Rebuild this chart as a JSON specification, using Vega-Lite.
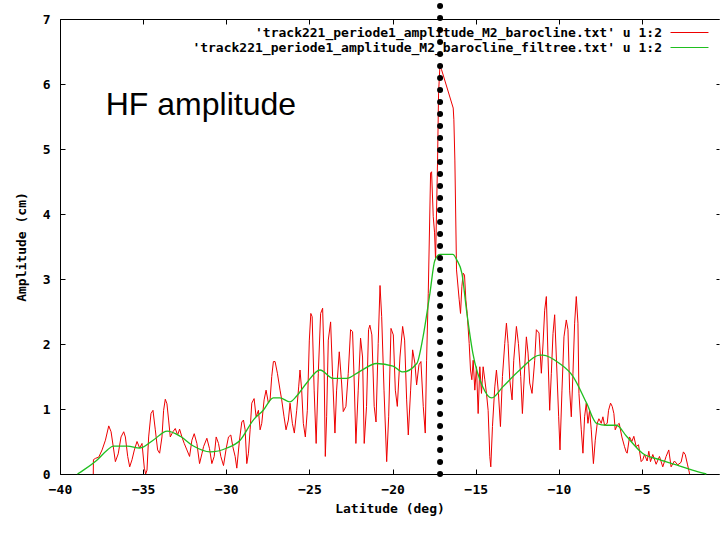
{
  "$schema": "https://vega.github.io/schema/vega-lite/v6.json",
  "width": 659,
  "height": 455,
  "autosize": {"type": "none"},
  "padding": {"left": 60, "top": 19, "right": 1, "bottom": 59},
  "background": "white",
  "config": {
    "view": {"stroke": null},
    "axis": {
      "domainColor": "black", "tickColor": "black", "labelColor": "black", "titleColor": "black",
      "labelFont": "DejaVu Sans Mono", "labelFontWeight": "bold", "labelFontSize": 13,
      "titleFont": "DejaVu Sans Mono", "titleFontWeight": "bold", "titleFontSize": 13,
      "grid": false, "labelFlush": false, "labelOverlap": false, "domainWidth": 1, "tickWidth": 1
    },
    "legend": {
      "orient": "none", "legendX": 622, "legendY": 6, "padding": 0,
      "symbolType": "M-2.71,0H2.71", "symbolSize": 196, "symbolStrokeWidth": 1,
      "labelAlign": "right", "labelOffset": -35, "labelLimit": 700,
      "labelFont": "DejaVu Sans Mono", "labelFontWeight": "bold", "labelFontSize": 13, "labelColor": "black",
      "rowPadding": 0, "title": null
    }
  },
  "datasets": {
    "raw": [
      {"lat": -38.0, "amp": 0, "s": "raw"},
      {"lat": -37.99, "amp": 0.22, "s": "raw"},
      {"lat": -37.87, "amp": 0.24, "s": "raw"},
      {"lat": -37.67, "amp": 0.26, "s": "raw"},
      {"lat": -37.47, "amp": 0.37, "s": "raw"},
      {"lat": -37.27, "amp": 0.52, "s": "raw"},
      {"lat": -37.07, "amp": 0.74, "s": "raw"},
      {"lat": -36.93, "amp": 0.65, "s": "raw"},
      {"lat": -36.77, "amp": 0.37, "s": "raw"},
      {"lat": -36.67, "amp": 0.19, "s": "raw"},
      {"lat": -36.5, "amp": 0.31, "s": "raw"},
      {"lat": -36.33, "amp": 0.57, "s": "raw"},
      {"lat": -36.17, "amp": 0.65, "s": "raw"},
      {"lat": -36.07, "amp": 0.57, "s": "raw"},
      {"lat": -35.93, "amp": 0.27, "s": "raw"},
      {"lat": -35.81, "amp": 0.11, "s": "raw"},
      {"lat": -35.67, "amp": 0.22, "s": "raw"},
      {"lat": -35.53, "amp": 0.37, "s": "raw"},
      {"lat": -35.37, "amp": 0.5, "s": "raw"},
      {"lat": -35.21, "amp": 0.4, "s": "raw"},
      {"lat": -35.07, "amp": 0.47, "s": "raw"},
      {"lat": -34.93, "amp": 0.09, "s": "raw"},
      {"lat": -34.85, "amp": 0.0, "s": "raw"},
      {"lat": -34.77, "amp": 0.06, "s": "raw"},
      {"lat": -34.67, "amp": 0.57, "s": "raw"},
      {"lat": -34.53, "amp": 0.93, "s": "raw"},
      {"lat": -34.41, "amp": 0.98, "s": "raw"},
      {"lat": -34.27, "amp": 0.68, "s": "raw"},
      {"lat": -34.13, "amp": 0.37, "s": "raw"},
      {"lat": -34.01, "amp": 0.32, "s": "raw"},
      {"lat": -33.87, "amp": 0.57, "s": "raw"},
      {"lat": -33.77, "amp": 0.98, "s": "raw"},
      {"lat": -33.67, "amp": 1.15, "s": "raw"},
      {"lat": -33.57, "amp": 1.08, "s": "raw"},
      {"lat": -33.47, "amp": 0.83, "s": "raw"},
      {"lat": -33.37, "amp": 0.57, "s": "raw"},
      {"lat": -33.21, "amp": 0.65, "s": "raw"},
      {"lat": -33.07, "amp": 0.7, "s": "raw"},
      {"lat": -32.93, "amp": 0.6, "s": "raw"},
      {"lat": -32.81, "amp": 0.69, "s": "raw"},
      {"lat": -32.67, "amp": 0.57, "s": "raw"},
      {"lat": -32.53, "amp": 0.47, "s": "raw"},
      {"lat": -32.37, "amp": 0.37, "s": "raw"},
      {"lat": -32.21, "amp": 0.27, "s": "raw"},
      {"lat": -32.07, "amp": 0.52, "s": "raw"},
      {"lat": -31.93, "amp": 0.62, "s": "raw"},
      {"lat": -31.77, "amp": 0.47, "s": "raw"},
      {"lat": -31.61, "amp": 0.16, "s": "raw"},
      {"lat": -31.47, "amp": 0.31, "s": "raw"},
      {"lat": -31.37, "amp": 0.42, "s": "raw"},
      {"lat": -31.17, "amp": 0.55, "s": "raw"},
      {"lat": -31.01, "amp": 0.39, "s": "raw"},
      {"lat": -30.87, "amp": 0.16, "s": "raw"},
      {"lat": -30.73, "amp": 0.27, "s": "raw"},
      {"lat": -30.61, "amp": 0.57, "s": "raw"},
      {"lat": -30.47, "amp": 0.47, "s": "raw"},
      {"lat": -30.33, "amp": 0.27, "s": "raw"},
      {"lat": -30.17, "amp": 0.13, "s": "raw"},
      {"lat": -30.01, "amp": 0.39, "s": "raw"},
      {"lat": -29.87, "amp": 0.57, "s": "raw"},
      {"lat": -29.73, "amp": 0.6, "s": "raw"},
      {"lat": -29.61, "amp": 0.42, "s": "raw"},
      {"lat": -29.47, "amp": 0.27, "s": "raw"},
      {"lat": -29.37, "amp": 0.09, "s": "raw"},
      {"lat": -29.21, "amp": 0.52, "s": "raw"},
      {"lat": -29.07, "amp": 0.8, "s": "raw"},
      {"lat": -28.97, "amp": 0.83, "s": "raw"},
      {"lat": -28.87, "amp": 0.68, "s": "raw"},
      {"lat": -28.77, "amp": 0.16, "s": "raw"},
      {"lat": -28.67, "amp": 0.32, "s": "raw"},
      {"lat": -28.57, "amp": 0.68, "s": "raw"},
      {"lat": -28.47, "amp": 1.09, "s": "raw"},
      {"lat": -28.33, "amp": 1.16, "s": "raw"},
      {"lat": -28.21, "amp": 0.88, "s": "raw"},
      {"lat": -28.07, "amp": 0.98, "s": "raw"},
      {"lat": -27.97, "amp": 0.68, "s": "raw"},
      {"lat": -27.87, "amp": 0.78, "s": "raw"},
      {"lat": -27.73, "amp": 1.14, "s": "raw"},
      {"lat": -27.61, "amp": 1.29, "s": "raw"},
      {"lat": -27.47, "amp": 1.09, "s": "raw"},
      {"lat": -27.37, "amp": 1.14, "s": "raw"},
      {"lat": -27.27, "amp": 1.5, "s": "raw"},
      {"lat": -27.17, "amp": 1.73, "s": "raw"},
      {"lat": -27.07, "amp": 1.73, "s": "raw"},
      {"lat": -26.93, "amp": 1.55, "s": "raw"},
      {"lat": -26.77, "amp": 1.29, "s": "raw"},
      {"lat": -26.67, "amp": 1.14, "s": "raw"},
      {"lat": -26.53, "amp": 0.88, "s": "raw"},
      {"lat": -26.41, "amp": 0.68, "s": "raw"},
      {"lat": -26.27, "amp": 0.83, "s": "raw"},
      {"lat": -26.17, "amp": 1.09, "s": "raw"},
      {"lat": -26.03, "amp": 0.78, "s": "raw"},
      {"lat": -25.91, "amp": 0.63, "s": "raw"},
      {"lat": -25.77, "amp": 0.98, "s": "raw"},
      {"lat": -25.65, "amp": 1.34, "s": "raw"},
      {"lat": -25.57, "amp": 1.6, "s": "raw"},
      {"lat": -25.47, "amp": 1.29, "s": "raw"},
      {"lat": -25.37, "amp": 0.78, "s": "raw"},
      {"lat": -25.25, "amp": 0.57, "s": "raw"},
      {"lat": -25.13, "amp": 0.98, "s": "raw"},
      {"lat": -25.01, "amp": 2.06, "s": "raw"},
      {"lat": -24.92, "amp": 2.47, "s": "raw"},
      {"lat": -24.84, "amp": 2.42, "s": "raw"},
      {"lat": -24.72, "amp": 1.29, "s": "raw"},
      {"lat": -24.6, "amp": 0.47, "s": "raw"},
      {"lat": -24.47, "amp": 1.55, "s": "raw"},
      {"lat": -24.33, "amp": 2.47, "s": "raw"},
      {"lat": -24.21, "amp": 2.55, "s": "raw"},
      {"lat": -24.13, "amp": 1.8, "s": "raw"},
      {"lat": -24.05, "amp": 0.27, "s": "raw"},
      {"lat": -23.97, "amp": 0.88, "s": "raw"},
      {"lat": -23.87, "amp": 2.06, "s": "raw"},
      {"lat": -23.73, "amp": 2.34, "s": "raw"},
      {"lat": -23.61, "amp": 1.5, "s": "raw"},
      {"lat": -23.47, "amp": 0.63, "s": "raw"},
      {"lat": -23.37, "amp": 1.29, "s": "raw"},
      {"lat": -23.21, "amp": 1.88, "s": "raw"},
      {"lat": -23.07, "amp": 1.4, "s": "raw"},
      {"lat": -22.97, "amp": 0.96, "s": "raw"},
      {"lat": -22.81, "amp": 1.04, "s": "raw"},
      {"lat": -22.67, "amp": 1.55, "s": "raw"},
      {"lat": -22.53, "amp": 2.22, "s": "raw"},
      {"lat": -22.41, "amp": 2.19, "s": "raw"},
      {"lat": -22.31, "amp": 1.4, "s": "raw"},
      {"lat": -22.21, "amp": 0.47, "s": "raw"},
      {"lat": -22.07, "amp": 1.29, "s": "raw"},
      {"lat": -21.93, "amp": 2.09, "s": "raw"},
      {"lat": -21.81, "amp": 1.8, "s": "raw"},
      {"lat": -21.71, "amp": 0.47, "s": "raw"},
      {"lat": -21.57, "amp": 1.04, "s": "raw"},
      {"lat": -21.45, "amp": 2.22, "s": "raw"},
      {"lat": -21.37, "amp": 2.29, "s": "raw"},
      {"lat": -21.25, "amp": 2.14, "s": "raw"},
      {"lat": -21.11, "amp": 1.04, "s": "raw"},
      {"lat": -21.0, "amp": 0.8, "s": "raw"},
      {"lat": -20.87, "amp": 2.01, "s": "raw"},
      {"lat": -20.76, "amp": 2.9, "s": "raw"},
      {"lat": -20.66, "amp": 2.42, "s": "raw"},
      {"lat": -20.52, "amp": 1.29, "s": "raw"},
      {"lat": -20.36, "amp": 0.19, "s": "raw"},
      {"lat": -20.24, "amp": 0.88, "s": "raw"},
      {"lat": -20.1, "amp": 2.24, "s": "raw"},
      {"lat": -19.96, "amp": 2.14, "s": "raw"},
      {"lat": -19.84, "amp": 1.29, "s": "raw"},
      {"lat": -19.72, "amp": 1.04, "s": "raw"},
      {"lat": -19.56, "amp": 1.8, "s": "raw"},
      {"lat": -19.4, "amp": 2.27, "s": "raw"},
      {"lat": -19.28, "amp": 2.06, "s": "raw"},
      {"lat": -19.16, "amp": 1.14, "s": "raw"},
      {"lat": -19.06, "amp": 0.6, "s": "raw"},
      {"lat": -18.92, "amp": 1.29, "s": "raw"},
      {"lat": -18.8, "amp": 1.91, "s": "raw"},
      {"lat": -18.66, "amp": 1.7, "s": "raw"},
      {"lat": -18.56, "amp": 1.37, "s": "raw"},
      {"lat": -18.42, "amp": 1.68, "s": "raw"},
      {"lat": -18.3, "amp": 1.73, "s": "raw"},
      {"lat": -18.16, "amp": 1.04, "s": "raw"},
      {"lat": -18.04, "amp": 0.63, "s": "raw"},
      {"lat": -17.96, "amp": 1.75, "s": "raw"},
      {"lat": -17.86, "amp": 2.78, "s": "raw"},
      {"lat": -17.72, "amp": 4.63, "s": "raw"},
      {"lat": -17.66, "amp": 4.65, "s": "raw"},
      {"lat": -17.56, "amp": 3.96, "s": "raw"},
      {"lat": -17.48, "amp": 3.71, "s": "raw"},
      {"lat": -17.42, "amp": 3.29, "s": "raw"},
      {"lat": -17.36, "amp": 4.06, "s": "raw"},
      {"lat": -17.3, "amp": 4.83, "s": "raw"},
      {"lat": -17.24, "amp": 5.86, "s": "raw"},
      {"lat": -17.16, "amp": 6.27, "s": "raw"},
      {"lat": -17.06, "amp": 6.22, "s": "raw"},
      {"lat": -16.36, "amp": 5.63, "s": "raw"},
      {"lat": -16.32, "amp": 5.45, "s": "raw"},
      {"lat": -16.26, "amp": 4.83, "s": "raw"},
      {"lat": -16.16, "amp": 3.14, "s": "raw"},
      {"lat": -16.0, "amp": 2.68, "s": "raw"},
      {"lat": -15.92, "amp": 2.47, "s": "raw"},
      {"lat": -15.84, "amp": 2.88, "s": "raw"},
      {"lat": -15.76, "amp": 3.09, "s": "raw"},
      {"lat": -15.68, "amp": 3.06, "s": "raw"},
      {"lat": -15.6, "amp": 2.68, "s": "raw"},
      {"lat": -15.52, "amp": 2.47, "s": "raw"},
      {"lat": -15.4, "amp": 2.01, "s": "raw"},
      {"lat": -15.32, "amp": 1.6, "s": "raw"},
      {"lat": -15.24, "amp": 1.45, "s": "raw"},
      {"lat": -15.16, "amp": 1.75, "s": "raw"},
      {"lat": -15.06, "amp": 1.29, "s": "raw"},
      {"lat": -14.96, "amp": 1.65, "s": "raw"},
      {"lat": -14.86, "amp": 0.93, "s": "raw"},
      {"lat": -14.76, "amp": 1.65, "s": "raw"},
      {"lat": -14.66, "amp": 1.24, "s": "raw"},
      {"lat": -14.56, "amp": 1.65, "s": "raw"},
      {"lat": -14.46, "amp": 1.45, "s": "raw"},
      {"lat": -14.36, "amp": 1.24, "s": "raw"},
      {"lat": -14.26, "amp": 0.98, "s": "raw"},
      {"lat": -14.16, "amp": 0.27, "s": "raw"},
      {"lat": -14.1, "amp": 0.11, "s": "raw"},
      {"lat": -14.0, "amp": 0.73, "s": "raw"},
      {"lat": -13.86, "amp": 1.34, "s": "raw"},
      {"lat": -13.76, "amp": 1.6, "s": "raw"},
      {"lat": -13.64, "amp": 1.24, "s": "raw"},
      {"lat": -13.52, "amp": 0.73, "s": "raw"},
      {"lat": -13.4, "amp": 1.5, "s": "raw"},
      {"lat": -13.26, "amp": 2.01, "s": "raw"},
      {"lat": -13.16, "amp": 2.32, "s": "raw"},
      {"lat": -13.06, "amp": 2.01, "s": "raw"},
      {"lat": -12.96, "amp": 1.45, "s": "raw"},
      {"lat": -12.82, "amp": 1.14, "s": "raw"},
      {"lat": -12.72, "amp": 1.75, "s": "raw"},
      {"lat": -12.56, "amp": 2.27, "s": "raw"},
      {"lat": -12.44, "amp": 2.01, "s": "raw"},
      {"lat": -12.3, "amp": 1.5, "s": "raw"},
      {"lat": -12.2, "amp": 0.93, "s": "raw"},
      {"lat": -12.06, "amp": 1.65, "s": "raw"},
      {"lat": -11.96, "amp": 2.11, "s": "raw"},
      {"lat": -11.86, "amp": 1.86, "s": "raw"},
      {"lat": -11.76, "amp": 1.4, "s": "raw"},
      {"lat": -11.62, "amp": 1.24, "s": "raw"},
      {"lat": -11.46, "amp": 1.75, "s": "raw"},
      {"lat": -11.36, "amp": 2.22, "s": "raw"},
      {"lat": -11.2, "amp": 2.17, "s": "raw"},
      {"lat": -11.06, "amp": 1.55, "s": "raw"},
      {"lat": -10.96, "amp": 2.0, "s": "raw"},
      {"lat": -10.86, "amp": 2.52, "s": "raw"},
      {"lat": -10.76, "amp": 2.73, "s": "raw"},
      {"lat": -10.66, "amp": 1.8, "s": "raw"},
      {"lat": -10.56, "amp": 0.98, "s": "raw"},
      {"lat": -10.46, "amp": 1.55, "s": "raw"},
      {"lat": -10.36, "amp": 2.16, "s": "raw"},
      {"lat": -10.26, "amp": 2.45, "s": "raw"},
      {"lat": -10.16, "amp": 1.8, "s": "raw"},
      {"lat": -10.02, "amp": 0.88, "s": "raw"},
      {"lat": -9.94, "amp": 0.37, "s": "raw"},
      {"lat": -9.82, "amp": 1.29, "s": "raw"},
      {"lat": -9.7, "amp": 2.11, "s": "raw"},
      {"lat": -9.56, "amp": 2.37, "s": "raw"},
      {"lat": -9.46, "amp": 2.22, "s": "raw"},
      {"lat": -9.36, "amp": 1.29, "s": "raw"},
      {"lat": -9.26, "amp": 0.88, "s": "raw"},
      {"lat": -9.16, "amp": 1.55, "s": "raw"},
      {"lat": -9.06, "amp": 2.32, "s": "raw"},
      {"lat": -8.96, "amp": 2.73, "s": "raw"},
      {"lat": -8.86, "amp": 2.32, "s": "raw"},
      {"lat": -8.8, "amp": 1.24, "s": "raw"},
      {"lat": -8.66, "amp": 0.68, "s": "raw"},
      {"lat": -8.56, "amp": 0.32, "s": "raw"},
      {"lat": -8.46, "amp": 0.88, "s": "raw"},
      {"lat": -8.36, "amp": 1.09, "s": "raw"},
      {"lat": -8.26, "amp": 0.78, "s": "raw"},
      {"lat": -8.16, "amp": 0.98, "s": "raw"},
      {"lat": -8.06, "amp": 0.68, "s": "raw"},
      {"lat": -7.93, "amp": 0.16, "s": "raw"},
      {"lat": -7.82, "amp": 0.52, "s": "raw"},
      {"lat": -7.7, "amp": 0.78, "s": "raw"},
      {"lat": -7.6, "amp": 0.85, "s": "raw"},
      {"lat": -7.46, "amp": 0.78, "s": "raw"},
      {"lat": -7.36, "amp": 0.88, "s": "raw"},
      {"lat": -7.26, "amp": 0.75, "s": "raw"},
      {"lat": -7.1, "amp": 0.78, "s": "raw"},
      {"lat": -7.02, "amp": 0.98, "s": "raw"},
      {"lat": -6.9, "amp": 1.09, "s": "raw"},
      {"lat": -6.8, "amp": 1.04, "s": "raw"},
      {"lat": -6.7, "amp": 0.93, "s": "raw"},
      {"lat": -6.62, "amp": 0.68, "s": "raw"},
      {"lat": -6.5, "amp": 0.75, "s": "raw"},
      {"lat": -6.38, "amp": 0.78, "s": "raw"},
      {"lat": -6.22, "amp": 0.57, "s": "raw"},
      {"lat": -6.06, "amp": 0.42, "s": "raw"},
      {"lat": -5.96, "amp": 0.34, "s": "raw"},
      {"lat": -5.9, "amp": 0.32, "s": "raw"},
      {"lat": -5.76, "amp": 0.57, "s": "raw"},
      {"lat": -5.62, "amp": 0.5, "s": "raw"},
      {"lat": -5.5, "amp": 0.58, "s": "raw"},
      {"lat": -5.36, "amp": 0.42, "s": "raw"},
      {"lat": -5.22, "amp": 0.45, "s": "raw"},
      {"lat": -5.06, "amp": 0.19, "s": "raw"},
      {"lat": -4.96, "amp": 0.22, "s": "raw"},
      {"lat": -4.86, "amp": 0.3, "s": "raw"},
      {"lat": -4.7, "amp": 0.2, "s": "raw"},
      {"lat": -4.6, "amp": 0.35, "s": "raw"},
      {"lat": -4.5, "amp": 0.19, "s": "raw"},
      {"lat": -4.36, "amp": 0.3, "s": "raw"},
      {"lat": -4.16, "amp": 0.15, "s": "raw"},
      {"lat": -3.96, "amp": 0.27, "s": "raw"},
      {"lat": -3.76, "amp": 0.11, "s": "raw"},
      {"lat": -3.56, "amp": 0.27, "s": "raw"},
      {"lat": -3.4, "amp": 0.37, "s": "raw"},
      {"lat": -3.26, "amp": 0.11, "s": "raw"},
      {"lat": -3.06, "amp": 0.2, "s": "raw"},
      {"lat": -2.86, "amp": 0.14, "s": "raw"},
      {"lat": -2.66, "amp": 0.18, "s": "raw"},
      {"lat": -2.52, "amp": 0.34, "s": "raw"},
      {"lat": -2.41, "amp": 0.3, "s": "raw"},
      {"lat": -2.27, "amp": 0.14, "s": "raw"},
      {"lat": -2.17, "amp": 0.03, "s": "raw"},
      {"lat": -2.15, "amp": 0, "s": "raw"}
    ],
    "smooth": [
      {"lat": -38.95, "amp": 0, "s": "filtree"},
      {"lat": -38.59, "amp": 0.06, "s": "filtree"},
      {"lat": -37.75, "amp": 0.22, "s": "filtree"},
      {"lat": -37.15, "amp": 0.37, "s": "filtree"},
      {"lat": -36.8, "amp": 0.43, "s": "filtree"},
      {"lat": -35.95, "amp": 0.43, "s": "filtree"},
      {"lat": -35.2, "amp": 0.4, "s": "filtree"},
      {"lat": -34.4, "amp": 0.52, "s": "filtree"},
      {"lat": -33.55, "amp": 0.66, "s": "filtree"},
      {"lat": -32.77, "amp": 0.58, "s": "filtree"},
      {"lat": -31.98, "amp": 0.43, "s": "filtree"},
      {"lat": -30.97, "amp": 0.34, "s": "filtree"},
      {"lat": -29.96, "amp": 0.4, "s": "filtree"},
      {"lat": -29.17, "amp": 0.52, "s": "filtree"},
      {"lat": -28.38, "amp": 0.83, "s": "filtree"},
      {"lat": -27.78, "amp": 0.98, "s": "filtree"},
      {"lat": -27.18, "amp": 1.17, "s": "filtree"},
      {"lat": -26.78, "amp": 1.17, "s": "filtree"},
      {"lat": -26.18, "amp": 1.11, "s": "filtree"},
      {"lat": -25.77, "amp": 1.2, "s": "filtree"},
      {"lat": -25.17, "amp": 1.4, "s": "filtree"},
      {"lat": -24.37, "amp": 1.6, "s": "filtree"},
      {"lat": -23.57, "amp": 1.47, "s": "filtree"},
      {"lat": -22.77, "amp": 1.47, "s": "filtree"},
      {"lat": -21.97, "amp": 1.58, "s": "filtree"},
      {"lat": -20.97, "amp": 1.7, "s": "filtree"},
      {"lat": -19.98, "amp": 1.66, "s": "filtree"},
      {"lat": -19.38, "amp": 1.57, "s": "filtree"},
      {"lat": -18.55, "amp": 1.7, "s": "filtree"},
      {"lat": -18.18, "amp": 2.1, "s": "filtree"},
      {"lat": -17.76, "amp": 2.78, "s": "filtree"},
      {"lat": -17.46, "amp": 3.29, "s": "filtree"},
      {"lat": -17.16, "amp": 3.38, "s": "filtree"},
      {"lat": -16.38, "amp": 3.38, "s": "filtree"},
      {"lat": -16.14, "amp": 3.29, "s": "filtree"},
      {"lat": -15.84, "amp": 3.09, "s": "filtree"},
      {"lat": -15.54, "amp": 2.48, "s": "filtree"},
      {"lat": -15.18, "amp": 1.86, "s": "filtree"},
      {"lat": -14.58, "amp": 1.34, "s": "filtree"},
      {"lat": -14.04, "amp": 1.17, "s": "filtree"},
      {"lat": -13.38, "amp": 1.34, "s": "filtree"},
      {"lat": -12.36, "amp": 1.6, "s": "filtree"},
      {"lat": -11.16, "amp": 1.83, "s": "filtree"},
      {"lat": -10.98, "amp": 1.83, "s": "filtree"},
      {"lat": -9.96, "amp": 1.7, "s": "filtree"},
      {"lat": -9.18, "amp": 1.51, "s": "filtree"},
      {"lat": -8.34, "amp": 1.09, "s": "filtree"},
      {"lat": -7.74, "amp": 0.78, "s": "filtree"},
      {"lat": -7.14, "amp": 0.75, "s": "filtree"},
      {"lat": -6.54, "amp": 0.75, "s": "filtree"},
      {"lat": -5.94, "amp": 0.58, "s": "filtree"},
      {"lat": -4.98, "amp": 0.32, "s": "filtree"},
      {"lat": -3.96, "amp": 0.22, "s": "filtree"},
      {"lat": -2.94, "amp": 0.14, "s": "filtree"},
      {"lat": -1.98, "amp": 0.06, "s": "filtree"},
      {"lat": -1.14, "amp": 0, "s": "filtree"}
    ],
    "marker": [{"lat": -17.15, "lo": 0, "hi": 7.29}],
    "note": [{"label": "HF amplitude", "lat": -37.25, "amp": 5.52}]
  },
  "layer": [
    {
      "data": {"name": "raw"},
      "mark": {"type": "line", "strokeWidth": 1, "interpolate": "linear"},
      "encoding": {
        "x": {"field": "lat", "type": "quantitative",
              "scale": {"domain": [-40, -0.38], "nice": false, "zero": false},
              "axis": {"orient": "bottom", "values": [-40, -35, -30, -25, -20, -15, -10, -5], "title": "Latitude (deg)",
                       "tickSize": -5, "labelPadding": 14, "titlePadding": 6}},
        "y": {"field": "amp", "type": "quantitative",
              "scale": {"domain": [0, 7], "nice": false, "zero": false},
              "axis": {"orient": "left", "values": [0, 1, 2, 3, 4, 5, 6, 7], "title": "Amplitude (cm)",
                       "tickSize": -5, "labelPadding": 15, "titlePadding": 14}},
        "color": {"field": "s", "type": "nominal",
                  "scale": {"domain": ["raw", "filtree"], "range": ["#ee0000", "#1fbf1f"]},
                  "legend": {"labelExpr": "datum.label === 'raw' ? \"'track221_periode1_amplitude_M2_barocline.txt' u 1:2\" : \"'track221_periode1_amplitude_M2_barocline_filtree.txt' u 1:2\""}}
      }
    },
    {
      "data": {"name": "smooth"},
      "mark": {"type": "line", "strokeWidth": 1.3, "interpolate": "monotone"},
      "encoding": {
        "x": {"field": "lat", "type": "quantitative",
              "axis": {"orient": "top", "values": [-40, -35, -30, -25, -20, -15, -10, -5], "labels": false, "title": null, "tickSize": -5}},
        "y": {"field": "amp", "type": "quantitative",
              "axis": {"orient": "right", "values": [0, 1, 2, 3, 4, 5, 6, 7], "labels": false, "title": null, "domain": false, "tickSize": -3}},
        "color": {"field": "s", "type": "nominal"}
      }
    },
    {
      "data": {"name": "marker"},
      "mark": {"type": "rule", "color": "black", "strokeWidth": 6, "strokeDash": [0, 12], "strokeCap": "round"},
      "encoding": {
        "x": {"field": "lat", "type": "quantitative", "axis": null},
        "y": {"field": "lo", "type": "quantitative", "axis": null},
        "y2": {"field": "hi"}
      }
    },
    {
      "data": {"name": "note"},
      "mark": {"type": "text", "font": "Liberation Sans", "fontSize": 32, "align": "left", "baseline": "alphabetic", "color": "black"},
      "encoding": {
        "x": {"field": "lat", "type": "quantitative", "axis": null},
        "y": {"field": "amp", "type": "quantitative", "axis": null},
        "text": {"field": "label"}
      }
    }
  ],
  "resolve": {"axis": {"x": "independent", "y": "independent"}}
}
